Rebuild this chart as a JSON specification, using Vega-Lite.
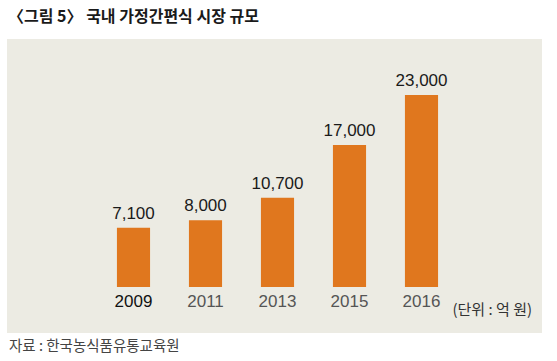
{
  "$schema": "https://vega.github.io/schema/vega-lite/v6.json",
  "width": 535,
  "height": 294,
  "autosize": "none",
  "padding": {"left": 7, "top": 39, "right": 15, "bottom": 28},
  "background": "#ffffff",
  "config": {"view": {"stroke": null, "fill": "#ecebe3"}},
  "title": {
    "text": "〈그림 5〉 국내 가정간편식 시장 규모",
    "anchor": "start",
    "font": "Noto Sans CJK KR",
    "fontSize": 16,
    "fontWeight": "bold",
    "color": "#1a1a1a",
    "offset": 14,
    "dx": 1
  },
  "data": {"values": [
    {"year": "2009", "value": 7100},
    {"year": "2011", "value": 8000},
    {"year": "2013", "value": 10700},
    {"year": "2015", "value": 17000},
    {"year": "2016", "value": 23000}
  ]},
  "encoding": {
    "x": {
      "field": "year", "type": "nominal", "sort": null,
      "scale": {"range": [90.5, 450.5], "paddingInner": 0.54, "paddingOuter": 0.27},
      "axis": {
        "title": null, "labelAngle": 0, "domain": false, "ticks": false, "offset": -46,
        "labelPadding": 6, "labelFont": "Liberation Sans", "labelFontSize": 17,
        "labelColor": {"condition": {"test": "datum.value == '2009'", "value": "#111111"}, "value": "#555555"}
      }
    },
    "y": {
      "field": "value", "type": "quantitative",
      "scale": {"domain": [-5510, 29708], "zero": false, "nice": false},
      "axis": null
    }
  },
  "layer": [
    {"mark": {"type": "bar", "color": "#e0771e"}, "encoding": {"y2": {"datum": 0}}},
    {
      "mark": {"type": "text", "dy": -14, "font": "Liberation Sans", "fontSize": 17, "color": "#1a1a1a", "letterSpacing": -1},
      "encoding": {"text": {"field": "value", "type": "quantitative", "format": ","}}
    },
    {
      "data": {"values": [{"t": "(단위 : 억 원)"}]},
      "mark": {"type": "text", "align": "right", "baseline": "middle", "font": "Noto Sans CJK KR", "fontSize": 15, "color": "#333333"},
      "encoding": {"x": {"value": 525}, "y": {"value": 271}, "text": {"field": "t"}}
    },
    {
      "data": {"values": [{"t": "자료 : 한국농식품유통교육원"}]},
      "mark": {"type": "text", "align": "left", "baseline": "middle", "font": "Noto Sans CJK KR", "fontSize": 14.5, "color": "#444444"},
      "encoding": {"x": {"value": 2}, "y": {"value": 308}, "text": {"field": "t"}}
    }
  ]
}
